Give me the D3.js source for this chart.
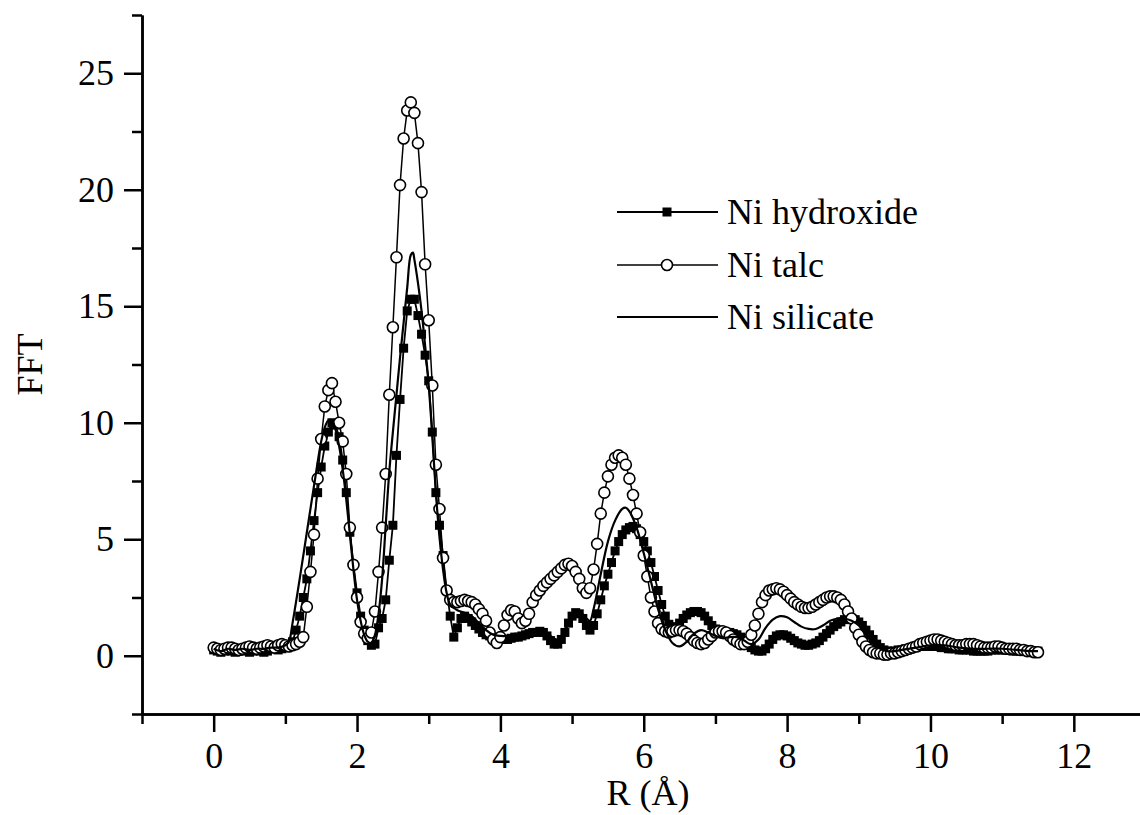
<!DOCTYPE html>
<html>
<head>
<meta charset="utf-8">
<script src="https://cdn.jsdelivr.net/npm/d3@7/dist/d3.min.js"></script>
<style>
  body { margin: 0; background: #fff; }
  svg { display: block; }
  text { font-family: "Liberation Serif", "Times New Roman", Times, "DejaVu Serif", serif; fill: #000; }
</style>
</head>
<body>
<svg id="chart" width="1140" height="815"></svg>
<script>
// FFT magnitude vs R, sampled every 0.05 A starting at 0
var R_START = 0, R_STEP = 0.05;
var FONT = "'Liberation Serif', 'Times New Roman', Times, 'DejaVu Serif', serif";

var hydroxide = [
  0.25, 0.2, 0.15, 0.2, 0.25, 0.2, 0.15, 0.2, 0.25, 0.2,
  0.15, 0.2, 0.25, 0.2, 0.15, 0.2, 0.3, 0.3, 0.25, 0.3,
  0.35, 0.4, 0.6, 1.1, 1.7, 2.5, 3.3, 4.5, 5.8, 7.0,
  8.1, 9.0, 9.6, 10.0, 9.9, 9.4, 8.4, 7.0, 5.3, 3.9,
  2.7, 1.7, 1.1, 0.65, 0.45, 0.5, 1.2, 1.6, 2.4, 4.1,
  5.6, 8.6, 11.0, 13.2, 14.8, 15.3, 15.3, 14.6, 13.8, 12.9,
  11.8, 9.6, 7.0, 5.6, 4.3, 2.8, 1.7, 0.8, 1.2, 1.6,
  1.7, 1.6, 1.45, 1.3, 1.15, 1.0, 0.9, 0.85, 0.8, 0.75,
  0.7, 0.7, 0.7, 0.75, 0.8, 0.8, 0.85, 0.9, 0.95, 1.0,
  1.0, 1.05, 1.0, 0.85, 0.65, 0.5, 0.5, 0.7, 1.0, 1.4,
  1.7, 1.85, 1.8, 1.6, 1.3, 1.1, 1.3, 1.8, 2.4, 3.0,
  3.5, 4.0, 4.5, 4.9, 5.2, 5.4, 5.5, 5.55, 5.45, 5.2,
  4.9, 4.5, 4.0, 3.4, 2.8, 2.2, 1.7, 1.35, 1.2, 1.25,
  1.4, 1.6, 1.75, 1.85, 1.9, 1.9, 1.85, 1.7, 1.5, 1.3,
  1.15, 1.05, 1.0, 1.0, 1.0, 0.95, 0.9, 0.8, 0.65, 0.5,
  0.35, 0.25, 0.2, 0.2, 0.3, 0.5, 0.7, 0.85, 0.9, 0.9,
  0.85, 0.75, 0.65, 0.55, 0.5, 0.45, 0.45, 0.5, 0.55, 0.65,
  0.8, 0.95, 1.1, 1.25, 1.35, 1.45, 1.55, 1.6, 1.6, 1.55,
  1.45, 1.3, 1.1, 0.9, 0.7, 0.5, 0.35, 0.25, 0.2, 0.2,
  0.2, 0.25, 0.25, 0.3, 0.3, 0.35, 0.35, 0.4, 0.4, 0.4,
  0.4, 0.4, 0.4, 0.35, 0.35, 0.3, 0.3, 0.3, 0.25, 0.25,
  0.25, 0.25, 0.2, 0.2, 0.2, 0.2, 0.2, 0.25, 0.25, 0.25,
  0.25, 0.25, 0.25, 0.2, 0.2, 0.2, 0.2, 0.2, 0.2, 0.2,
  0.2
];

var talc = [
  0.35, 0.3, 0.25, 0.3, 0.35, 0.35, 0.3, 0.25, 0.3, 0.35,
  0.4, 0.35, 0.3, 0.35, 0.4, 0.45, 0.4, 0.35, 0.45, 0.5,
  0.45, 0.4, 0.45, 0.5, 0.6, 0.8, 2.1, 3.6, 5.2, 7.6,
  9.3, 10.7, 11.4, 11.7, 10.9, 10.0, 9.2, 7.8, 5.5, 3.9,
  2.5, 1.45, 0.95, 0.75, 1.0, 1.9, 3.6, 5.5, 7.8, 11.2,
  14.1, 17.1, 20.2, 22.2, 23.4, 23.75, 23.3, 22.0, 19.9, 16.8,
  14.4, 11.6, 8.2, 6.3, 4.2, 2.8, 2.4, 2.3, 2.3, 2.35,
  2.4, 2.35, 2.3, 2.2, 2.0, 1.8, 1.5, 1.0, 0.7, 0.55,
  0.8, 1.3, 1.75, 1.95, 1.9, 1.6, 1.4, 1.5, 1.8, 2.3,
  2.6, 2.8, 3.0, 3.15, 3.3, 3.45, 3.6, 3.75, 3.9, 3.95,
  3.85, 3.6, 3.3, 2.9, 2.7, 2.9, 3.7, 4.8, 6.1, 7.0,
  7.7, 8.2, 8.5, 8.6, 8.5, 8.2, 7.6, 6.9, 6.1, 5.3,
  4.3, 3.4, 2.5, 1.9, 1.4, 1.15, 1.05, 1.0, 1.05, 1.1,
  1.1, 1.05, 0.95, 0.8, 0.65, 0.55, 0.5, 0.55, 0.7, 0.85,
  1.0, 1.05, 1.05, 1.0, 0.85, 0.7, 0.6, 0.5, 0.5, 0.6,
  0.9, 1.3, 1.8, 2.3, 2.6, 2.8, 2.85, 2.9, 2.85, 2.75,
  2.6, 2.45, 2.3, 2.2, 2.1, 2.05, 2.05, 2.1, 2.2, 2.3,
  2.4, 2.5, 2.55, 2.55, 2.5, 2.4, 2.2, 1.9, 1.6, 1.2,
  0.9, 0.6, 0.4, 0.25, 0.15, 0.1, 0.1, 0.05, 0.05, 0.1,
  0.1, 0.15, 0.2, 0.25, 0.3, 0.35, 0.4, 0.5, 0.55, 0.6,
  0.65, 0.7, 0.7, 0.65, 0.6, 0.55, 0.5, 0.45, 0.45, 0.45,
  0.5, 0.5, 0.5, 0.45, 0.4, 0.35, 0.35, 0.35, 0.4, 0.4,
  0.35, 0.3, 0.3, 0.3, 0.3, 0.25, 0.25, 0.2, 0.2, 0.15,
  0.15
];

// silicate is drawn as a plain line: [R, FFT]
var silicate = [
  [0.0, 0.3], [0.1, 0.2], [0.2, 0.3], [0.3, 0.25], [0.4, 0.3], [0.5, 0.25],
  [0.6, 0.3], [0.7, 0.3], [0.8, 0.35], [0.9, 0.35], [1.0, 0.45], [1.05, 0.6],
  [1.1, 1.4], [1.2, 3.3], [1.3, 5.3], [1.4, 7.3], [1.5, 9.2], [1.55, 9.8],
  [1.6, 10.1], [1.65, 10.1], [1.7, 9.7], [1.75, 9.0], [1.8, 8.0], [1.85, 6.7],
  [1.9, 5.2], [1.95, 3.7], [2.0, 2.4], [2.05, 1.5], [2.1, 0.9], [2.15, 0.6],
  [2.2, 0.55], [2.25, 0.9], [2.3, 1.8], [2.35, 3.3], [2.4, 5.6], [2.45, 7.9],
  [2.5, 9.6], [2.55, 11.2], [2.6, 12.8], [2.65, 14.3], [2.7, 15.8], [2.75, 17.2],
  [2.78, 17.3], [2.8, 17.0], [2.85, 16.0], [2.9, 14.8], [2.95, 13.3], [3.0, 11.6],
  [3.05, 9.4], [3.1, 7.0], [3.15, 5.1], [3.2, 3.7], [3.25, 2.7], [3.3, 2.2],
  [3.4, 1.95], [3.5, 1.85], [3.6, 1.7], [3.7, 1.4], [3.8, 1.1], [3.9, 0.9],
  [4.0, 0.85], [4.1, 0.85], [4.2, 0.9], [4.3, 0.95], [4.4, 1.05], [4.5, 1.15],
  [4.6, 1.1], [4.7, 0.85], [4.8, 0.7], [4.9, 1.1], [5.0, 1.7], [5.1, 1.9],
  [5.2, 1.6], [5.25, 1.5], [5.3, 2.0], [5.4, 3.5], [5.5, 4.9], [5.6, 5.8],
  [5.7, 6.3], [5.75, 6.35], [5.8, 6.2], [5.9, 5.5], [6.0, 4.4], [6.1, 3.2],
  [6.2, 2.0], [6.3, 1.1], [6.4, 0.55], [6.5, 0.4], [6.6, 0.6], [6.7, 0.95],
  [6.8, 1.1], [6.9, 1.0], [7.0, 0.85], [7.1, 0.75], [7.2, 0.8], [7.3, 0.8],
  [7.4, 0.65], [7.5, 0.5], [7.6, 0.7], [7.7, 1.2], [7.8, 1.55], [7.9, 1.7],
  [8.0, 1.65], [8.1, 1.45], [8.2, 1.25], [8.3, 1.15], [8.4, 1.15], [8.5, 1.3],
  [8.6, 1.5], [8.7, 1.6], [8.8, 1.6], [8.9, 1.5], [9.0, 1.3], [9.1, 0.9],
  [9.2, 0.55], [9.3, 0.3], [9.4, 0.2], [9.5, 0.2], [9.6, 0.25], [9.8, 0.35],
  [10.0, 0.45], [10.2, 0.45], [10.4, 0.35], [10.6, 0.3], [10.8, 0.3], [11.0, 0.3],
  [11.2, 0.25], [11.4, 0.2], [11.5, 0.2]
];

var xMajorTicks = [0, 2, 4, 6, 8, 10, 12];
var xMinorTicks = [-1, 1, 3, 5, 7, 9, 11, 13];
var yMajorTicks = [0, 5, 10, 15, 20, 25];
var yMinorTicks = [-2.5, 2.5, 7.5, 12.5, 17.5, 22.5, 27.5];
var legendNames = ["Ni hydroxide", "Ni talc", "Ni silicate"];

var svg = d3.select("#chart");
var x = d3.scaleLinear().domain([-1, 13]).range([142, 1145.5]);
var y = d3.scaleLinear().domain([-2.5, 27.5]).range([714, 15]);

var toPoints = function(vals) {
    return vals.map((v, i) => [R_START + i * R_STEP, v]);
};
var hydroPts = toPoints(hydroxide);
var talcPts = toPoints(talc);

var line = d3.line().x(d => x(d[0])).y(d => y(d[1]));
var smooth = d3.line().x(d => x(d[0])).y(d => y(d[1])).curve(d3.curveCatmullRom);

// axes
var yAxisMajor = d3.axisLeft(y).tickValues(yMajorTicks).tickSize(18).tickSizeOuter(0).tickPadding(10);
var yAxisMinor = d3.axisLeft(y).tickValues(yMinorTicks).tickSize(10).tickSizeOuter(0).tickFormat("");
var xAxisMajor = d3.axisBottom(x).tickValues(xMajorTicks).tickSize(18).tickSizeOuter(0).tickPadding(10);
var xAxisMinor = d3.axisBottom(x).tickValues(xMinorTicks).tickSize(10).tickSizeOuter(0).tickFormat("");

var gy = svg.append("g").attr("transform", "translate(" + x(-1) + ",0)");
gy.call(yAxisMajor);
gy.append("g").call(yAxisMinor);
var gx = svg.append("g").attr("transform", "translate(0," + y(-2.5) + ")");
gx.call(xAxisMajor);
gx.append("g").call(xAxisMinor);

svg.selectAll("g").attr("font-family", null);
svg.selectAll(".domain").attr("stroke", "#000").attr("stroke-width", 2.5);
svg.selectAll(".tick line").attr("stroke", "#000").attr("stroke-width", 2.5);
svg.selectAll(".tick text")
    .style("font-family", FONT)
    .style("font-size", "36px")
    .attr("fill", "#000");

// axis titles
svg.append("text")
    .attr("transform", "translate(42," + y(12.5) + ") rotate(-90)")
    .attr("text-anchor", "middle")
    .style("font-family", FONT)
    .style("font-size", "36px")
    .text("FFT");
svg.append("text")
    .attr("x", 648).attr("y", 805)
    .attr("text-anchor", "middle")
    .style("font-family", FONT)
    .style("font-size", "36px")
    .text("R (Å)");

// hydroxide: line with filled squares
svg.append("path").datum(hydroPts)
    .attr("d", line).attr("fill", "none").attr("stroke", "#000").attr("stroke-width", 1.8);
svg.append("g").selectAll("rect").data(hydroPts).enter().append("rect")
    .attr("x", d => x(d[0]) - 4.5).attr("y", d => y(d[1]) - 4.5)
    .attr("width", 9).attr("height", 9).attr("fill", "#000");

// talc: line with open circles
svg.append("path").datum(talcPts)
    .attr("d", line).attr("fill", "none").attr("stroke", "#000").attr("stroke-width", 1.5);
svg.append("g").selectAll("circle").data(talcPts).enter().append("circle")
    .attr("cx", d => x(d[0])).attr("cy", d => y(d[1])).attr("r", 5.5)
    .attr("fill", "#fff").attr("stroke", "#000").attr("stroke-width", 1.6);

// silicate: plain line
svg.append("path").datum(silicate)
    .attr("d", smooth).attr("fill", "none").attr("stroke", "#000").attr("stroke-width", 2.2);

// legend
var legendY = [212, 265, 317];
var lg = svg.append("g");
legendNames.forEach((name, i) => {
    lg.append("line")
        .attr("x1", 617).attr("x2", 718).attr("y1", legendY[i]).attr("y2", legendY[i])
        .attr("stroke", "#000").attr("stroke-width", i == 1 ? 1.5 : 2.2);
    lg.append("text")
        .attr("x", 727).attr("y", legendY[i] + 12)
        .style("font-family", FONT)
        .style("font-size", "36px")
        .text(name);
});
lg.append("rect").attr("x", 662.5).attr("y", legendY[0] - 4.5).attr("width", 9).attr("height", 9).attr("fill", "#000");
lg.append("circle").attr("cx", 667).attr("cy", legendY[1]).attr("r", 5.5)
    .attr("fill", "#fff").attr("stroke", "#000").attr("stroke-width", 1.6);
</script>
</body>
</html>
